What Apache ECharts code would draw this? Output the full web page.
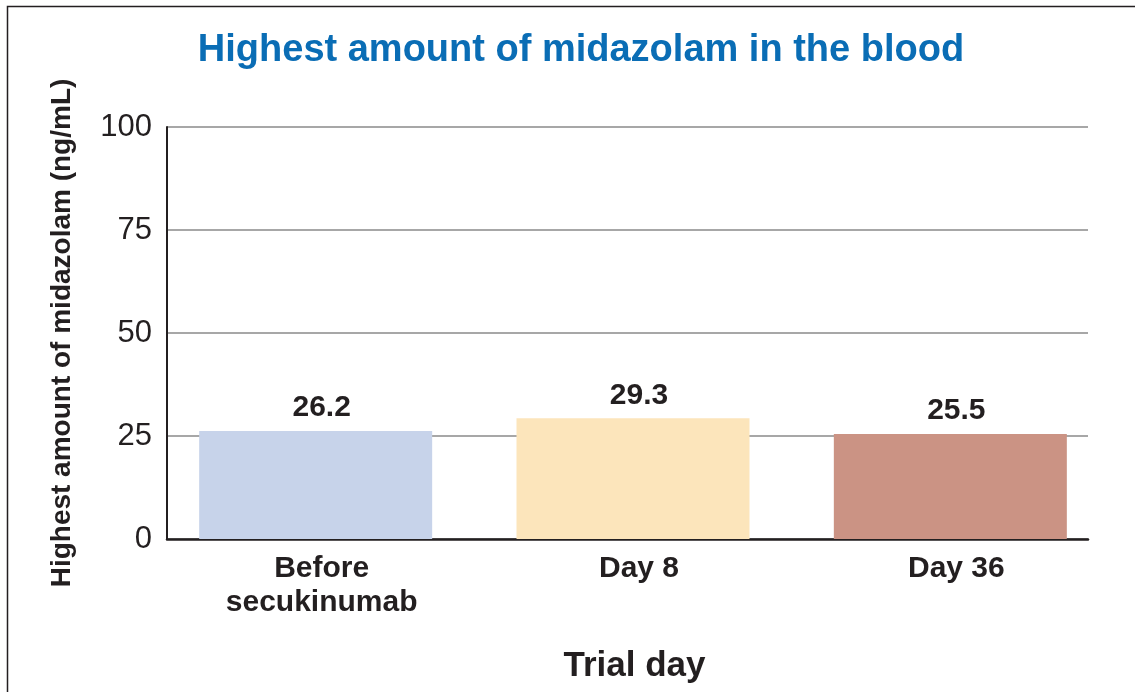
<!DOCTYPE html>
<html>
<head>
<meta charset="utf-8">
<script src="https://cdn.jsdelivr.net/npm/echarts@6/dist/echarts.min.js"></script>
<style>
  html, body { margin: 0; padding: 0; background: #fff; }
  #chart { width: 1135px; height: 692px; }
</style>
</head>
<body>
<div id="chart"></div>
<script>
var categories = ['Before\nsecukinumab', 'Day 8', 'Day 36'];
var values = [26.2, 29.3, 25.5];
var barColors = ['#c7d3ea', '#fce5bb', '#cb9384'];
var yTicks = [0, 25, 50, 75, 100];

var font = 'Liberation Sans, Arial, sans-serif';
var ink = '#231f20';

var chart = echarts.init(document.getElementById('chart'));

// grid 0 carries the visible frame (axes + gridlines), grid 1 the bars,
// which sit a bit wider apart than the frame in the original
var option = {
    backgroundColor: '#fff',
    animation: false,
    title: {
        text: 'Highest amount of midazolam in the blood',
        left: 576,
        textAlign: 'center',
        top: 27,
        textStyle: { color: '#0a6db5', fontSize: 38, fontWeight: 'bold', fontFamily: font }
    },
    graphic: [{
        type: 'rect',
        shape: { x: 7.5, y: 6.5, width: 1300, height: 900 },
        style: { fill: null, stroke: ink, lineWidth: 1.5 },
        silent: true
    }],
    grid: [
        { left: 167, right: 47, top: 127, bottom: 153 },
        { left: 157, right: 26, top: 127, bottom: 153 }
    ],
    xAxis: [{
        type: 'category',
        gridIndex: 0,
        data: categories,
        name: 'Trial day',
        nameLocation: 'middle',
        nameGap: 110,
        nameTextStyle: {
            color: ink, fontSize: 35, fontWeight: 'bold', fontFamily: font,
            padding: [0, 0, 0, 14]
        },
        axisLine: { lineStyle: { color: ink, width: 2.5 } },
        axisTick: { show: false },
        axisLabel: { show: false }
    }, {
        type: 'category',
        gridIndex: 1,
        data: categories,
        axisLine: { show: false },
        axisTick: { show: false },
        axisLabel: {
            color: ink, fontSize: 30, fontWeight: 'bold', fontFamily: font,
            lineHeight: 34, margin: 13, padding: [0, 0, 0, 12]
        }
    }],
    yAxis: [{
        type: 'value',
        gridIndex: 0,
        min: yTicks[0],
        max: yTicks[yTicks.length - 1],
        interval: 25,
        name: 'Highest amount of midazolam (ng/mL)',
        nameLocation: 'middle',
        nameGap: 91,
        nameTextStyle: { color: ink, fontSize: 28, fontWeight: 'bold', fontFamily: font },
        axisLine: { show: true, lineStyle: { color: ink, width: 2 } },
        axisTick: { show: false },
        axisLabel: { color: ink, fontSize: 31, fontFamily: font, margin: 15 },
        splitLine: { lineStyle: { color: '#8a8a8a', width: 1.5 } }
    }, {
        type: 'value',
        gridIndex: 1,
        min: yTicks[0],
        max: yTicks[yTicks.length - 1],
        interval: 25,
        show: false
    }],
    series: [{
        type: 'bar',
        xAxisIndex: 1,
        yAxisIndex: 1,
        barWidth: 233,
        data: values.map(function (v, i) {
            return { value: v, itemStyle: { color: barColors[i] } };
        }),
        label: {
            show: true,
            position: 'top',
            distance: 8,
            offset: [6, 0],
            color: ink,
            fontSize: 30,
            fontWeight: 'bold',
            fontFamily: font,
            formatter: function (p) { return p.value.toFixed(1); }
        }
    }]
};

chart.setOption(option);
</script>
</body>
</html>
